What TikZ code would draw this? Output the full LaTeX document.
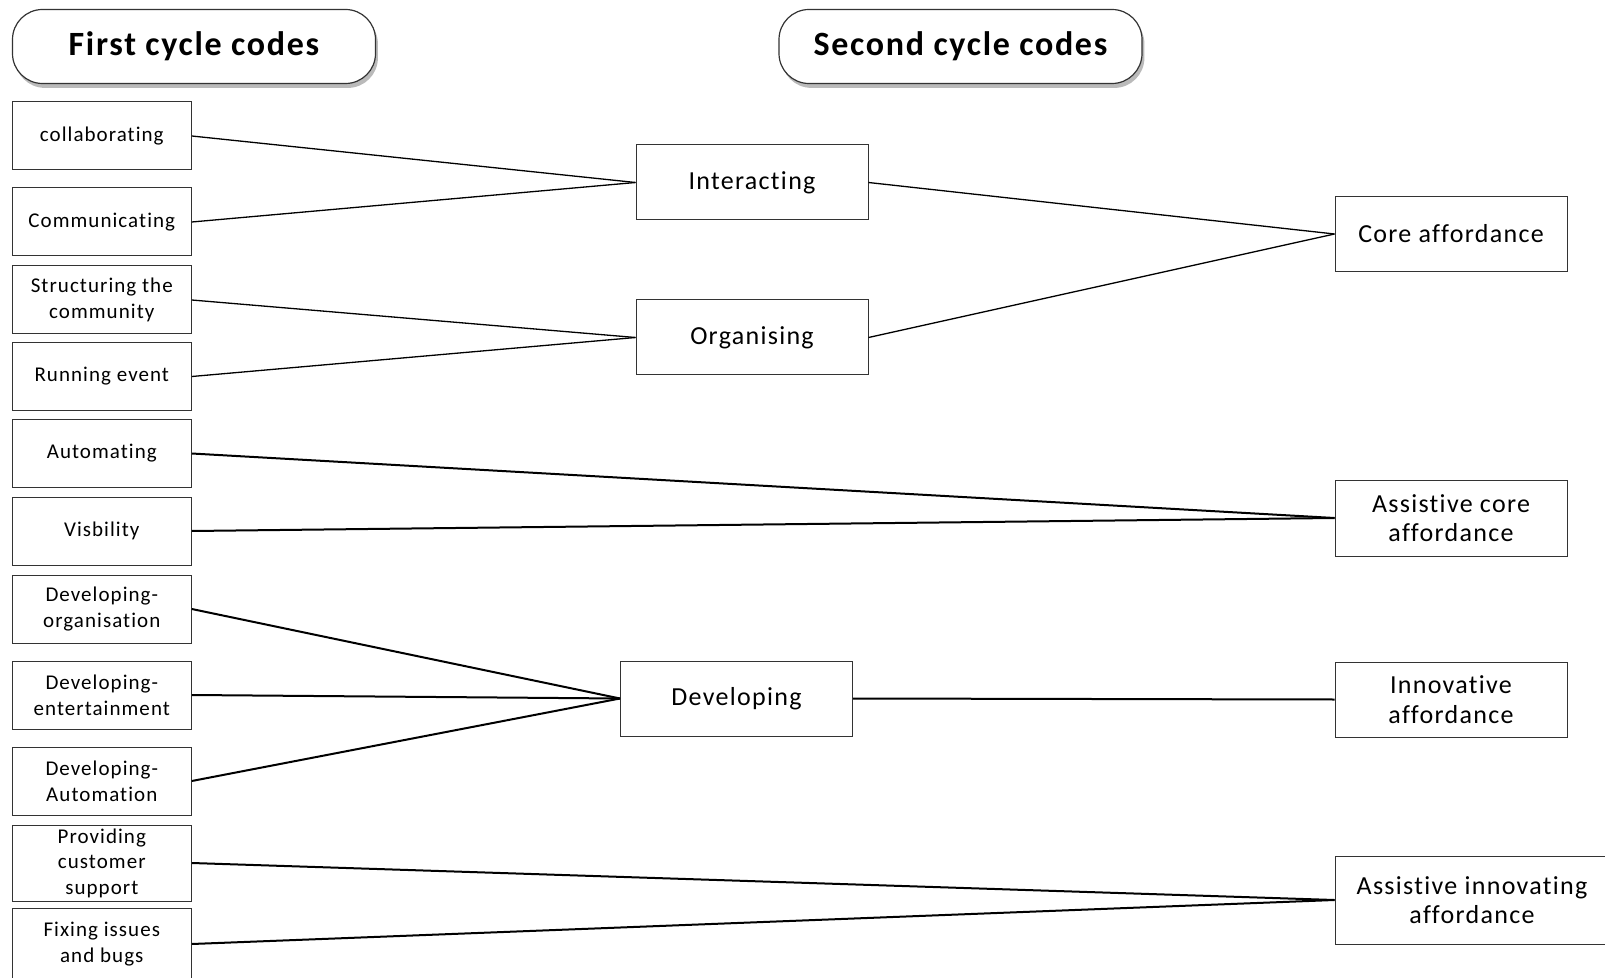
\documentclass[tikz,border=0pt]{standalone}
\usepackage{fontspec}
\setmainfont{Carlito}[LetterSpace=5,Ligatures={TeX,NoCommon}]
\usepackage{tikz}
\usetikzlibrary{positioning,shadows}
\definecolor{boxline}{HTML}{333333}

\tikzset{
  headbox/.style={draw=boxline,line width=0.6pt,rounded corners=15pt,fill=white,
    minimum width=181.5pt,minimum height=37pt,font=\fontsize{17}{20}\selectfont\bfseries,
    drop shadow={shadow xshift=1.2pt,shadow yshift=-2.2pt,opacity=0.45,fill=black!60}},
  firstcode/.style={draw=boxline,line width=0.5pt,minimum width=89.5pt,minimum height=34pt,
    align=center,inner sep=1pt,font=\fontsize{10.5}{12.8}\selectfont},
  secondcode/.style={draw=boxline,line width=0.5pt,minimum width=116pt,minimum height=37.5pt,
    align=center,inner sep=1pt,font=\fontsize{13}{14.8}\selectfont},
  link/.style={line width=0.65pt},
  thicklink/.style={line width=1pt}
}

\begin{document}
\begin{tikzpicture}[x=0.5pt,y=-0.5pt]
\useasboundingbox (0,0) rectangle (1605,978);

% headings
\node[headbox] (hfirst) at (194,46.5) {First cycle codes};
\node[headbox] (hsecond) at (960.5,46.5) {Second cycle codes};

% first cycle codes
\node[firstcode] (collab) at (101.8,136) {collaborating};
\node[firstcode] (commun) at (101.8,222) {Communicating};
\node[firstcode] (struct) at (101.8,300) {Structuring the\\community};
\node[firstcode] (running) at (101.8,376.5) {Running event};
\node[firstcode] (autom) at (101.8,453.5) {Automating};
\node[firstcode] (visib) at (101.8,531) {Visbility};
\node[firstcode] (devorg) at (101.8,609) {Developing-\\organisation};
\node[firstcode] (devent) at (101.8,695) {Developing-\\entertainment};
\node[firstcode] (devauto) at (101.8,781) {Developing-\\Automation};
\node[firstcode,minimum height=38pt] (support) at (101.8,863) {Providing\\customer\\support};
\node[firstcode,minimum height=36pt] (fixing) at (101.8,944) {Fixing issues\\and bugs};

% second cycle codes
\node[secondcode] (interact) at (752,182.5) {Interacting};
\node[secondcode] (organis) at (752,337.5) {Organising};
\node[secondcode] (develop) at (736.5,698.5) {Developing};

% affordances
\node[secondcode] (core) at (1451,234) {Core affordance};
\node[secondcode,minimum height=38pt] (asscore) at (1451,518) {Assistive core\\affordance};
\node[secondcode] (innov) at (1451,699.5) {Innovative\\affordance};
\node[secondcode,minimum width=137pt,minimum height=44pt] (assinnov) at (1472,900) {Assistive innovating\\affordance};

% links
\draw[link] (collab.east) -- (interact.west);
\draw[link] (commun.east) -- (interact.west);
\draw[link] (struct.east) -- (organis.west);
\draw[link] (running.east) -- (organis.west);
\draw[link] (interact.east) -- (core.west);
\draw[link] (organis.east) -- (core.west);
\draw[thicklink] (autom.east) -- (asscore.west);
\draw[thicklink] (visib.east) -- (asscore.west);
\draw[thicklink] (devorg.east) -- (develop.west);
\draw[thicklink] (devent.east) -- (develop.west);
\draw[thicklink] (devauto.east) -- (develop.west);
\draw[thicklink] (develop.east) -- (innov.west);
\draw[thicklink] (support.east) -- (assinnov.west);
\draw[thicklink] (fixing.east) -- (assinnov.west);
\end{tikzpicture}
\end{document}
